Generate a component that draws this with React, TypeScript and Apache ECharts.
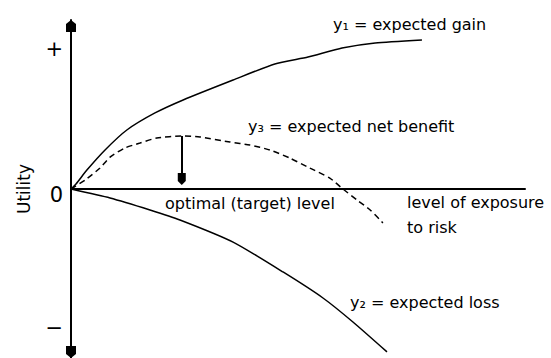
import React, { useEffect, useRef } from "react";
import * as echarts from "echarts";

// Curve y1: expected gain
const gainX = [0, 1.1, 3.5, 7.5, 12.3, 18.5, 24.7, 35.7, 44.9, 52.2, 59.7, 67.0, 77.3];
const gainY = [0, 3.0, 11.2, 23.1, 34.9, 45.0, 52.7, 64.5, 74.0, 78.1, 83.4, 86.4, 88.2];
// Curve y2: expected loss
const lossX = [0, 8.6, 17.4, 24.0, 35.7, 46.7, 55.5, 62.1, 69.6];
const lossY = [0, -5.3, -12.4, -18.3, -31.4, -49.1, -64.5, -78.7, -96.4];
// Curve y3: expected net benefit
const netX = [0, 3.1, 6.4, 8.6, 11.9, 15.2, 18.9, 24.4, 28.4, 35.0, 39.4, 43.8, 48.2, 52.6, 57.0, 59.9, 63.0, 65.9, 68.7];
const netY = [0, 5.3, 12.4, 18.9, 24.3, 27.2, 30.2, 31.4, 30.8, 27.8, 26.0, 23.1, 18.3, 12.4, 6.5, 0, -6.5, -12.4, -20.1];
// Optimal level arrow (from peak of y3 down to the axis)
const optimalArrowX = 24.4;
const optimalArrowY = [31.4, 5.9];
// Y axis tick labels
const yTickValues = [83, -3.5, -82];
const yTickLabels = ["+", "0", "−"];
// Texts
const yAxisName = "Utility";
const gainLabel = "y₁ = expected gain";
const netLabel = "y₃ = expected net benefit";
const lossLabel = "y₂ = expected loss";
const optimalLabel = "optimal (target) level";
const xAxisName = "level of exposure\nto risk";

const zip = (xs: number[], ys: number[]) => xs.map((x, i) => [x, ys[i]]);

const FONT = "DejaVu Sans";
const ARROW = "path://M5,0L10,4L10,12L0,12L0,4Z";

export default function App() {
  const ref = useRef<HTMLDivElement>(null);
  useEffect(() => {
    if (!ref.current) return;
    const chart = echarts.init(ref.current, null, { renderer: "svg" });
    const textStyle = (text: string, x: number, y: number, extra: any = {}) => ({
      type: "text",
      x,
      y,
      silent: true,
      style: {
        text,
        fill: "#000",
        fontFamily: FONT,
        fontSize: 16,
        verticalAlign: "middle",
        align: "left",
        ...extra,
      },
    });
    chart.setOption({
      animation: false,
      backgroundColor: "#fff",
      grid: { left: 71, right: 26, top: 20, bottom: 0 },
      xAxis: {
        type: "value",
        min: 0,
        max: 100,
        axisLine: { show: true, onZero: true, lineStyle: { color: "#000", width: 2 } },
        axisTick: { show: false },
        axisLabel: { show: false },
        splitLine: { show: false },
      },
      yAxis: {
        type: "value",
        min: -100,
        max: 100,
        name: yAxisName,
        nameLocation: "middle",
        nameRotate: 90,
        nameGap: 39,
        nameTextStyle: { fontFamily: FONT, fontSize: 17, color: "#000" },
        axisLine: {
          show: true,
          onZero: false,
          symbol: [ARROW, ARROW],
          symbolSize: [10, 12],
          symbolOffset: [6, -6],
          lineStyle: { color: "#000", width: 2 },
        },
        axisTick: { show: false },
        splitLine: { show: false },
        axisLabel: {
          show: true,
          customValues: yTickValues,
          margin: 8,
          fontFamily: FONT,
          fontSize: 21,
          color: "#000",
          formatter: (v: number) => {
            let best = 0;
            yTickValues.forEach((t, i) => {
              if (Math.abs(t - v) < Math.abs(yTickValues[best] - v)) best = i;
            });
            return yTickLabels[best];
          },
        },
      },
      series: [
        {
          type: "line",
          name: "gain",
          data: zip(gainX, gainY),
          showSymbol: false,
          smooth: 0.2,
          silent: true,
          lineStyle: { color: "#000", width: 1.5 },
        },
        {
          type: "line",
          name: "loss",
          data: zip(lossX, lossY),
          showSymbol: false,
          smooth: 0.2,
          silent: true,
          lineStyle: { color: "#000", width: 1.5 },
        },
        {
          type: "line",
          name: "net",
          data: zip(netX, netY),
          showSymbol: false,
          smooth: 0.2,
          silent: true,
          lineStyle: { color: "#000", width: 1.5, type: [6, 4] },
          markLine: {
            silent: true,
            symbol: ["none", ARROW],
            symbolSize: [8, 12],
            label: { show: false },
            lineStyle: { color: "#000", width: 2, type: "solid" },
            data: [
              [
                { coord: [optimalArrowX, optimalArrowY[0]] },
                { coord: [optimalArrowX, optimalArrowY[1]] },
              ],
            ],
          },
        },
      ],
      graphic: [
        textStyle(gainLabel, 333, 24),
        textStyle(netLabel, 248, 126),
        textStyle(optimalLabel, 165, 203),
        textStyle(xAxisName, 407, 189.5, { verticalAlign: "top", lineHeight: 25 }),
        textStyle(lossLabel, 350, 302),
      ],
    });
    return () => chart.dispose();
  }, []);
  return (
    <div
      ref={ref}
      style={{ position: "fixed", left: 0, top: 0, width: 551, height: 358, background: "#fff" }}
    />
  );
}
